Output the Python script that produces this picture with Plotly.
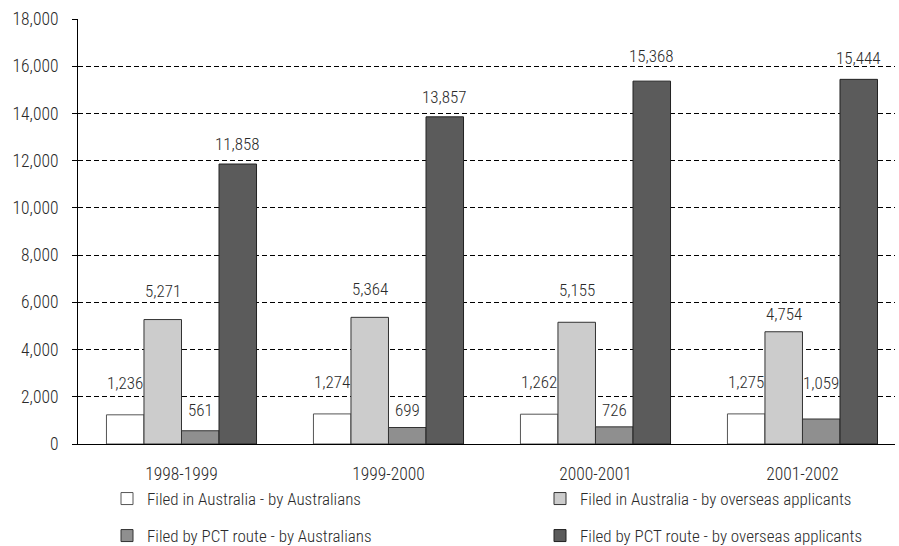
import plotly.graph_objects as go

years = ["1998-1999", "1999-2000", "2000-2001", "2001-2002"]
series_names = [
    "Filed in Australia - by Australians",
    "Filed in Australia - by overseas applicants",
    "Filed by PCT route - by Australians",
    "Filed by PCT route - by overseas applicants",
]
aus_by_aus = [1236, 1274, 1262, 1275]
aus_by_overseas = [5271, 5364, 5155, 4754]
pct_by_aus = [561, 699, 726, 1059]
pct_by_overseas = [11858, 13857, 15368, 15444]
series_values = [aus_by_aus, aus_by_overseas, pct_by_aus, pct_by_overseas]

y_ticks = [0, 2000, 4000, 6000, 8000, 10000, 12000, 14000, 16000, 18000]
y_tick_text = ["0", "2,000", "4,000", "6,000", "8,000", "10,000", "12,000", "14,000", "16,000", "18,000"]

# styling
colors = ["#ffffff", "#cccccc", "#8f8f8f", "#5b5b5b"]
outline = ["#555555", "#333333", "#333333", "#222222"]
label_offsets = [  # px from bar top to label centre
    [32, 32, 32, 32],
    [29, 28, 32, 18],
    [21, 18, 17, 36],
    [20, 20, 25, 21],
]
# legend item positions (text start x, centre y) in pixels
legend_pos = [(147, 499), (580, 499), (147, 536), (580, 536)]
FONT = "Roboto Condensed, Liberation Sans Narrow, Arial Narrow, sans-serif"
FW = 300
TXT = "#2a2a2a"
W, H = 899, 546
bargap = 0.275
n_series = len(series_values)
bw = (1 - bargap) / n_series


def fnt(size):
    return dict(family=FONT, size=size, color=TXT, weight=FW)


fig = go.Figure()
legend_ids = ["legend", "legend2", "legend3", "legend4"]
for i, (name, vals) in enumerate(zip(series_names, series_values)):
    fig.add_trace(go.Bar(
        x=years, y=vals, name=name, showlegend=True,
        marker=dict(color=colors[i], line=dict(color=outline[i], width=1)),
        legend=legend_ids[i],
    ))
    for j, v in enumerate(vals):
        fig.add_annotation(
            x=j + (i - (n_series - 1) / 2) * bw, y=v, xref="x", yref="y",
            text=f"{v:,}", showarrow=False, yanchor="middle",
            yshift=label_offsets[i][j], font=fnt(17),
        )

# small extension of the value axis below zero
fig.add_shape(type="line", xref="paper", yref="y", x0=0, x1=0,
              ysizemode="pixel", yanchor=0, y0=0, y1=-6,
              line=dict(color="#000000", width=1))

legends = {}
for i, lid in enumerate(legend_ids):
    tx, ty = legend_pos[i]
    legends[lid] = dict(
        orientation="h", xref="container", yref="container",
        x=(tx - 40) / W, xanchor="left", y=1 - ty / H, yanchor="middle",
        font=fnt(17), visible=True,
        bgcolor="rgba(0,0,0,0)", itemclick=False, itemdoubleclick=False,
    )

fig.update_layout(
    width=W, height=H, showlegend=True,
    margin=dict(l=78, r=4, t=19, b=102, autoexpand=False),
    paper_bgcolor="white", plot_bgcolor="white",
    barmode="group", bargap=bargap, bargroupgap=0,
    font=fnt(17),
    xaxis=dict(
        type="category", range=[-0.5, 3.447],
        showline=True, linecolor="#000000", linewidth=1,
        ticks="", showgrid=False, ticklabelstandoff=14,
        tickfont=fnt(17.5),
    ),
    yaxis=dict(
        range=[0, 18000], tickvals=y_ticks, ticktext=y_tick_text,
        showline=True, linecolor="#000000", linewidth=1,
        ticks="outside", ticklen=5, tickcolor="#000000",
        showgrid=True, gridcolor="#000000", gridwidth=1, griddash="5px,3px",
        zeroline=False, ticklabelstandoff=10,
        tickfont=fnt(17.5),
    ),
    **legends,
)

fig.write_html("out.html")
